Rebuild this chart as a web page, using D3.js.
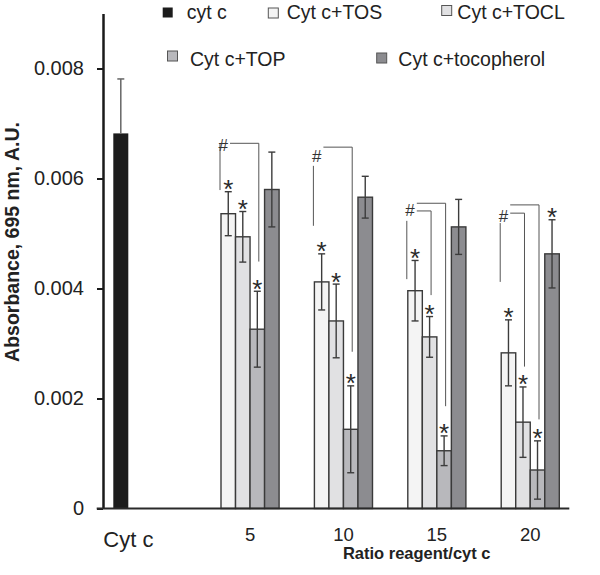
<!DOCTYPE html>
<html><head><meta charset="utf-8">
<script src="https://cdn.jsdelivr.net/npm/d3@7"></script>
<style>body{margin:0;background:#fff}svg{display:block}text{font-family:"Liberation Sans",Arial,sans-serif}</style>
</head><body><svg id="c" width="600" height="575"></svg>
<script>
// ---- data ----
const ratios = ["5", "10", "15", "20"];
const seriesNames = ["Cyt c+TOS", "Cyt c+TOCL", "Cyt c+TOP", "Cyt c+tocopherol"];
const controlLabel = "Cyt c";
const controlValue = 0.00682;
const controlErr = 0.00099;
const tosValues = [0.00536, 0.00412, 0.00396, 0.00283];
const tosErr = [0.00040, 0.00051, 0.00055, 0.00060];
const toclValues = [0.00494, 0.00341, 0.00312, 0.00157];
const toclErr = [0.00046, 0.00067, 0.00037, 0.00064];
const topValues = [0.00326, 0.00144, 0.00105, 0.00070];
const topErr = [0.00069, 0.00079, 0.00027, 0.00053];
const tocoValues = [0.00580, 0.00566, 0.00512, 0.00463];
const tocoErr = [0.00068, 0.00038, 0.00050, 0.00062];
const tosStar = [1, 1, 1, 1];
const toclStar = [1, 1, 1, 1];
const topStar = [1, 1, 1, 1];
const tocoStar = [0, 0, 0, 1];
const yTicks = [0, 0.002, 0.004, 0.006, 0.008];
const legendLabels = ["cyt c", "Cyt c+TOS", "Cyt c+TOCL", "Cyt c+TOP", "Cyt c+tocopherol"];
// "#" brackets (values in absorbance units)
const hashGroups = ["5", "10", "15", "20"];
const hashLevel = [0.00661, 0.00641, 0.00543, 0.00532];
const hashLegTop = [0.00664, 0.00623, 0.00523, 0.00519];
const hashLegBottom = [0.00579, 0.00514, 0.00417, 0.00412];
const hashArms = [
  [{series: "Cyt c+TOP", top: 0.00664, bottom: 0.00449}],
  [{series: "Cyt c+TOP", top: 0.00657, bottom: 0.00285}],
  [{series: "Cyt c+TOCL", top: 0.00541, bottom: 0.00388}, {series: "Cyt c+TOP", top: 0.00555, bottom: 0.00186}],
  [{series: "Cyt c+TOCL", top: 0.00537, bottom: 0.00258}, {series: "Cyt c+TOP", top: 0.00552, bottom: 0.00162}]
];

// ---- styles / layout ----
const colors = {"cyt c": "#1c1c1c", "Cyt c+TOS": "#f4f4f4", "Cyt c+TOCL": "#e1e1e3", "Cyt c+TOP": "#b8b8bc", "Cyt c+tocopherol": "#8c8c90"};
const seriesTable = [
  {name: seriesNames[0], values: tosValues, err: tosErr, star: tosStar},
  {name: seriesNames[1], values: toclValues, err: toclErr, star: toclStar},
  {name: seriesNames[2], values: topValues, err: topErr, star: topStar},
  {name: seriesNames[3], values: tocoValues, err: tocoErr, star: tocoStar}
];
const svg = d3.select("#c");
const y = d3.scaleLinear().domain([0, 0.009]).range([508.5, 13.5]);
const xGroup = d3.scaleBand().domain(ratios).range([221, 559.3]).paddingInner(0.378).paddingOuter(0);
const xSeries = d3.scaleBand().domain(seriesNames).range([0, xGroup.bandwidth()]);
const xCtl = d3.scaleBand().domain([controlLabel]).range([113.3, 128.3]);

// control bar
svg.append("rect").attr("x", xCtl(controlLabel)).attr("width", xCtl.bandwidth())
  .attr("y", y(controlValue)).attr("height", y(0) - y(controlValue))
  .attr("fill", colors["cyt c"]);
{
  const cx = xCtl(controlLabel) + xCtl.bandwidth() / 2;
  svg.append("line").attr("x1", cx).attr("x2", cx).attr("y1", y(controlValue)).attr("y2", y(controlValue + controlErr))
    .attr("stroke", "#666").attr("stroke-width", 1.5);
  svg.append("line").attr("x1", cx - 3.5).attr("x2", cx + 3.5).attr("y1", y(controlValue + controlErr)).attr("y2", y(controlValue + controlErr))
    .attr("stroke", "#666").attr("stroke-width", 1.5);
}

// grouped bars
const flat = [];
seriesTable.forEach(s => ratios.forEach((r, i) => flat.push({series: s.name, ratio: r, v: s.values[i], e: s.err[i], star: s.star[i]})));
const bx = d => xGroup(d.ratio) + xSeries(d.series);
svg.append("g").selectAll("rect").data(flat).join("rect")
  .attr("x", bx).attr("width", xSeries.bandwidth())
  .attr("y", d => y(d.v)).attr("height", d => y(0) - y(d.v))
  .attr("fill", d => colors[d.series]).attr("stroke", "#3a3a3a").attr("stroke-width", 1.4);

const eg = svg.append("g").attr("stroke", "#3c3c3c").attr("stroke-width", 1.4);
flat.forEach(d => {
  const cx = bx(d) + xSeries.bandwidth() / 2;
  eg.append("line").attr("x1", cx).attr("x2", cx).attr("y1", y(d.v + d.e)).attr("y2", y(d.v - d.e));
  [d.v + d.e, d.v - d.e].forEach(v => eg.append("line").attr("x1", cx - 3.5).attr("x2", cx + 3.5).attr("y1", y(v)).attr("y2", y(v)));
});

// stars
const starSize = 26;
svg.append("g").selectAll("text").data(flat.filter(d => d.star)).join("text")
  .attr("x", d => bx(d) + xSeries.bandwidth() / 2).attr("y", d => y(d.v + d.e) - 8 + 0.555 * starSize)
  .attr("text-anchor", "middle").attr("font-size", starSize).attr("fill", "#2a2a2a").text("*");

// brackets
const bg = svg.append("g").attr("stroke", "#555").attr("stroke-width", 1).attr("fill", "none");
hashGroups.forEach((g, i) => {
  const lx = xGroup(g) - 1;
  bg.append("line").attr("x1", lx).attr("x2", lx).attr("y1", y(hashLegTop[i])).attr("y2", y(hashLegBottom[i]));
  hashArms[i].forEach(a => {
    const ax = xGroup(g) + xSeries(a.series) + xSeries.bandwidth() / 2 + 1.5;
    bg.append("path").attr("d", `M${lx + 10},${y(a.top)}H${ax}V${y(a.bottom)}`);
  });
  svg.append("text").attr("x", lx - 1.5).attr("y", y(hashLevel[i]) + 6)
    .attr("font-size", 17).attr("fill", "#333").text("#");
});

// y axis
const yAxis = svg.append("g").attr("transform", "translate(103,0)")
  .call(d3.axisLeft(y).tickValues(yTicks).tickSize(6).tickPadding(13).tickSizeOuter(0)
    .tickFormat(d => d === 0 ? "0" : d3.format(".3f")(d)));
yAxis.select(".domain").attr("stroke", "#1a1a1a").attr("stroke-width", 2.5);
yAxis.selectAll(".tick line").attr("stroke", "#1a1a1a").attr("stroke-width", 2);
yAxis.selectAll(".tick text").attr("font-size", 20).attr("fill", "#222").attr("font-family", "Liberation Sans, Arial, sans-serif");

// x axis baseline + labels
svg.append("line").attr("x1", 96.7).attr("x2", xGroup.range()[1] + 10).attr("y1", y(0)).attr("y2", y(0))
  .attr("stroke", "#2a2a2a").attr("stroke-width", 2);
const xAxis = svg.append("g").attr("transform", `translate(0,${y(0)})`)
  .call(d3.axisBottom(xGroup).tickSize(0).tickPadding(19.5));
xAxis.select(".domain").remove();
xAxis.selectAll(".tick text").attr("font-size", 18.5).attr("fill", "#222").attr("font-family", "Liberation Sans, Arial, sans-serif").attr("dy", "0.71em");
svg.append("text").attr("x", xCtl(controlLabel) - 10).attr("y", 546.5).attr("font-size", 22).attr("fill", "#222").text(controlLabel);

// axis titles
svg.append("text").attr("x", 416.7).attr("y", 559).attr("text-anchor", "middle")
  .attr("font-size", 16.5).attr("font-weight", "bold").attr("fill", "#222").text("Ratio reagent/cyt c");
svg.append("text").attr("transform", "translate(18.5,242) rotate(-90)").attr("text-anchor", "middle")
  .attr("font-size", 19.5).attr("font-weight", "bold").attr("fill", "#222").text("Absorbance, 695 nm, A.U.");

// legend
const legendPos = [[162.7, 7.5, 186.7, 18.5], [268.3, 8, 286.7, 18.5], [441.7, 5.5, 457.3, 18.5], [167.5, 51, 190, 65.5], [376.7, 53, 398.3, 66]];
const lg = svg.append("g");
legendLabels.forEach((l, i) => {
  const p = legendPos[i];
  const key = i === 0 ? "cyt c" : seriesNames[i - 1];
  lg.append("rect").attr("x", p[0]).attr("y", p[1]).attr("width", 10).attr("height", 10)
    .attr("fill", colors[key]).attr("stroke", i === 0 ? "none" : "#555").attr("stroke-width", 1);
  lg.append("text").attr("x", p[2]).attr("y", p[3]).attr("font-size", 19.5).attr("fill", "#222").text(l);
});
</script></body></html>
